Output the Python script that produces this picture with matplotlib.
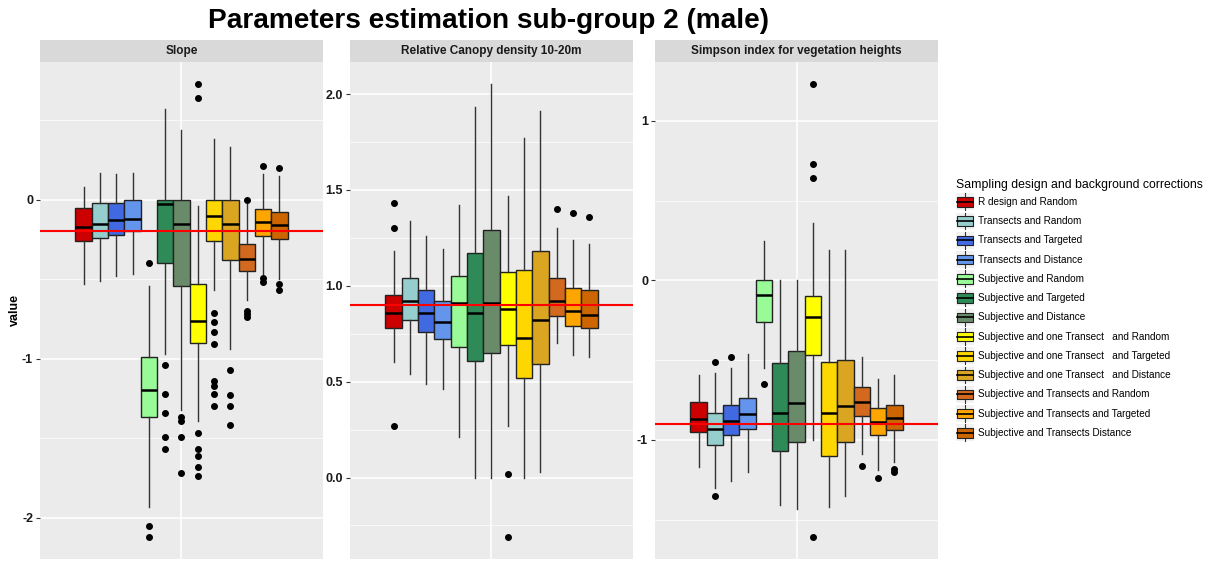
import matplotlib
matplotlib.use("Agg")
import matplotlib.pyplot as plt
from matplotlib.legend_handler import HandlerBase
from matplotlib.patches import Rectangle, Patch
from matplotlib.lines import Line2D
import numpy as np

plt.rcParams['font.family'] = ['Liberation Sans', 'DejaVu Sans']

designs = ['R design and Random', 'Transects and Random', 'Transects and Targeted',
           'Transects and Distance', 'Subjective and Random', 'Subjective and Targeted',
           'Subjective and Distance', 'Subjective and one Transect   and Random',
           'Subjective and one Transect   and Targeted', 'Subjective and one Transect   and Distance',
           'Subjective and Transects and Random', 'Subjective and Transects and Targeted',
           'Subjective and Transects Distance']
colors = ['#CD0000', '#96CDCD', '#4169E1', '#6495ED', '#98FB98', '#2E8B57', '#698B69',
          '#FFFF00', '#FFD700', '#DAA520', '#D2691E', '#FFA500', '#CD6600']

# Slope
slope_lo = [-0.53, -0.51, -0.48, -0.47, -1.93, -0.97, -1.32, -1.39, -0.57, -0.94, -0.63, -0.47, -0.50]
slope_q1 = [-0.26, -0.24, -0.22, -0.20, -1.37, -0.40, -0.54, -0.90, -0.26, -0.38, -0.45, -0.23, -0.25]
slope_med = [-0.17, -0.15, -0.13, -0.12, -1.20, -0.03, -0.15, -0.76, -0.10, -0.15, -0.37, -0.14, -0.16]
slope_q3 = [-0.05, -0.02, -0.02, 0.00, -0.99, 0.00, 0.00, -0.53, 0.00, 0.00, -0.28, -0.06, -0.08]
slope_hi = [0.08, 0.17, 0.16, 0.17, -0.54, 0.57, 0.44, -0.04, 0.38, 0.33, -0.03, 0.16, 0.15]
slope_out = [[], [], [], [], [-0.40, -2.05, -2.12], [-1.04, -1.22, -1.34, -1.49, -1.57],
             [-1.37, -1.39, -1.49, -1.72], [0.73, 0.64, -1.47, -1.57, -1.61, -1.68, -1.74],
             [-0.71, -0.77, -0.83, -0.91, -1.14, -1.17, -1.22, -1.30], [-1.07, -1.23, -1.30, -1.42],
             [0.00, -0.70, -0.72, -0.74], [0.21, -0.49, -0.52], [0.20, -0.53, -0.57]]

# Relative canopy density 10-20m
can_lo = [0.60, 0.54, 0.49, 0.46, 0.21, 0.00, 0.00, 0.27, 0.00, 0.03, 0.70, 0.64, 0.63]
can_q1 = [0.78, 0.82, 0.76, 0.72, 0.68, 0.61, 0.65, 0.69, 0.52, 0.59, 0.84, 0.79, 0.78]
can_med = [0.86, 0.92, 0.86, 0.81, 0.91, 0.86, 0.91, 0.88, 0.73, 0.82, 0.92, 0.87, 0.85]
can_q3 = [0.95, 1.04, 0.98, 0.92, 1.05, 1.17, 1.29, 1.07, 1.08, 1.18, 1.04, 0.99, 0.98]
can_hi = [1.18, 1.34, 1.26, 1.19, 1.42, 1.93, 2.05, 1.47, 1.77, 1.91, 1.30, 1.24, 1.22]
can_out = [[1.43, 1.30, 0.27], [], [], [], [], [], [], [0.02, -0.31], [], [], [1.40], [1.38], [1.36]]

# Simpson index
simp_lo = [-1.17, -1.30, -1.26, -1.20, -0.55, -1.41, -1.43, -1.00, -1.42, -1.35, -1.09, -1.19, -1.14]
simp_q1 = [-0.95, -1.03, -0.97, -0.93, -0.26, -1.07, -1.01, -0.47, -1.10, -1.01, -0.85, -0.97, -0.94]
simp_med = [-0.87, -0.93, -0.88, -0.84, -0.09, -0.83, -0.77, -0.23, -0.83, -0.79, -0.76, -0.89, -0.86]
simp_q3 = [-0.76, -0.83, -0.78, -0.74, 0.00, -0.52, -0.44, -0.10, -0.51, -0.50, -0.67, -0.80, -0.78]
simp_hi = [-0.59, -0.58, -0.55, -0.46, 0.25, 0.00, 0.00, 0.36, 0.19, 0.19, -0.48, -0.62, -0.59]
simp_out = [[], [-0.51, -1.35], [-0.48], [], [-0.65], [], [], [1.23, 0.73, 0.64, -1.61], [], [],
            [-1.16], [-1.24], [-1.18, -1.20]]

panels = [
    dict(title='Slope', lo=slope_lo, q1=slope_q1, med=slope_med, q3=slope_q3, hi=slope_hi,
         out=slope_out, ref=-0.2, ylim=(-2.26, 0.866), major=[-2, -1, 0], minor=[-1.5, -0.5, 0.5],
         fmt='{:g}'),
    dict(title='Relative Canopy density 10-20m', lo=can_lo, q1=can_q1, med=can_med, q3=can_q3,
         hi=can_hi, out=can_out, ref=0.9, ylim=(-0.425, 2.167), major=[0, 0.5, 1, 1.5, 2],
         minor=[-0.25, 0.25, 0.75, 1.25, 1.75], fmt='{:.1f}'),
    dict(title='Simpson index for vegetation heights', lo=simp_lo, q1=simp_q1, med=simp_med,
         q3=simp_q3, hi=simp_hi, out=simp_out, ref=-0.9, ylim=(-1.746, 1.369), major=[-1, 0, 1],
         minor=[-1.5, -0.5, 0.5], fmt='{:g}'),
]

W, H = 1209, 561
fig = plt.figure(figsize=(W / 100, H / 100), dpi=100)
lefts = [40, 350, 655]
pw = 283
top, bottom, strip_h = 62, 559, 22

n = len(designs)
step = 0.9 / n
pos = (np.arange(n) - (n - 1) / 2) * step

for left, p in zip(lefts, panels):
    ax = fig.add_axes([left / W, 1 - bottom / H, pw / W, (bottom - top) / H])
    ax.set_facecolor('#EBEBEB')
    stats = [dict(whislo=p['lo'][i], q1=p['q1'][i], med=p['med'][i], q3=p['q3'][i],
                  whishi=p['hi'][i], fliers=p['out'][i]) for i in range(n)]
    bp = ax.bxp(stats, positions=pos, widths=step, patch_artist=True, showcaps=False,
                boxprops=dict(edgecolor='#222222', linewidth=1.0),
                medianprops=dict(color='black', linewidth=1.8),
                whiskerprops=dict(color='#333333', linewidth=1.0),
                flierprops=dict(marker='o', markerfacecolor='black', markeredgecolor='black',
                                markersize=4))
    for box, c in zip(bp['boxes'], colors):
        box.set_facecolor(c)
    ax.axhline(p['ref'], color='#FF0000', linewidth=1.5, zorder=5)
    ax.set_xlim(-0.6, 0.6)
    ax.set_ylim(*p['ylim'])
    ax.set_yticks(p['major'])
    ax.set_yticklabels([p['fmt'].format(v) for v in p['major']], fontweight='bold', fontsize=9,
                       color='#1A1A1A')
    ax.set_yticks(p['minor'], minor=True)
    ax.set_xticks([0])
    ax.set_xticklabels([])
    ax.grid(True, which='major', color='white', linewidth=1.1)
    ax.grid(True, which='minor', axis='y', color='white', linewidth=0.5)
    ax.set_axisbelow(True)
    ax.tick_params(axis='y', which='major', length=3, color='#333333', pad=2)
    ax.tick_params(axis='y', which='minor', length=0)
    ax.tick_params(axis='x', length=0)
    for s in ax.spines.values():
        s.set_visible(False)

    sax = fig.add_axes([left / W, 1 - top / H, pw / W, strip_h / H])
    sax.set_facecolor('#D9D9D9')
    sax.set_xticks([])
    sax.set_yticks([])
    for s in sax.spines.values():
        s.set_visible(False)
    sax.text(0.5, 0.5, p['title'], ha='center', va='center', fontsize=8.5, fontweight='bold',
             color='#1A1A1A', transform=sax.transAxes)

fig.text(15 / W, 1 - 310 / H, 'value', rotation=90, ha='center', va='center', fontsize=9,
         fontweight='bold')
fig.text(489 / W, 1 - 21 / H, 'Parameters estimation sub-group 2 (male)', ha='center',
         va='center', fontsize=20.2, fontweight='bold')


class BoxKey(HandlerBase):
    def create_artists(self, legend, orig_handle, xdescent, ydescent, width, height,
                       fontsize, trans):
        x0, y0 = -xdescent, -ydescent
        bg = Rectangle((x0, y0), width, height, facecolor='#F2F2F2', edgecolor='none',
                       transform=trans)
        cx = x0 + width / 2
        wl = Line2D([cx, cx], [y0, y0 + height], color='#333333', lw=0.8, transform=trans)
        bx = Rectangle((x0 + width * 0.08, y0 + height * 0.22), width * 0.84, height * 0.56,
                       facecolor=orig_handle.get_facecolor(), edgecolor='#222222', lw=0.8,
                       transform=trans)
        ml = Line2D([x0 + width * 0.08, x0 + width * 0.92], [y0 + height / 2] * 2,
                    color='black', lw=1.2, transform=trans)
        return [bg, wl, bx, ml]


handles = [Patch(facecolor=c) for c in colors]
fig.legend(handles, designs, loc='upper left', bbox_to_anchor=(954 / W, 1 - 177 / H),
           frameon=False, fontsize=7.2, title='Sampling design and background corrections',
           title_fontsize=8.8, alignment='left', handler_map={Patch: BoxKey()},
           handlelength=1.8, handleheight=2.2, labelspacing=0.25, handletextpad=0.35,
           borderpad=0.2, borderaxespad=0)

fig.savefig('out.png', dpi=100)
